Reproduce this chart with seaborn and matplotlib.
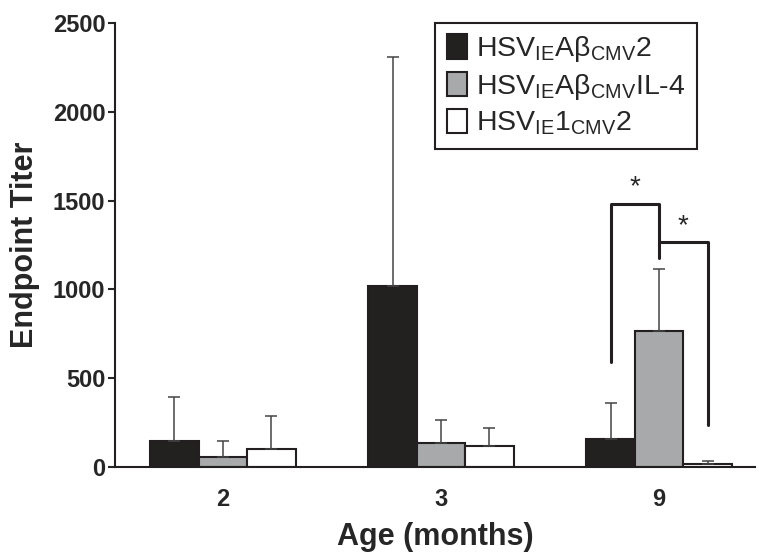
import matplotlib
matplotlib.use("Agg")
import matplotlib.pyplot as plt
import seaborn as sns
import pandas as pd

# data
ages = ["2", "3", "9"]
groups = [r"HSV$_\mathregular{IE}$A$\mathregular{\beta}$$_\mathregular{CMV}$2",
          r"HSV$_\mathregular{IE}$A$\mathregular{\beta}$$_\mathregular{CMV}$IL-4",
          r"HSV$_\mathregular{IE}$1$_\mathregular{CMV}$2"]
titer_ab2 = [148, 1020, 160]
titer_il4 = [55, 135, 768]
titer_ctrl = [100, 120, 18]
err_ab2 = [247, 1290, 198]
err_il4 = [93, 130, 345]
err_ctrl = [185, 97, 18]

rows = []
for g, vals, errs in zip(groups, [titer_ab2, titer_il4, titer_ctrl],
                         [err_ab2, err_il4, err_ctrl]):
    for a, v, e in zip(ages, vals, errs):
        rows.append({"age": a, "group": g, "titer": v, "err": e})
df = pd.DataFrame(rows)

sns.set_style("ticks")
plt.rcParams["font.family"] = ["Liberation Sans", "DejaVu Sans"]
plt.rcParams["mathtext.fontset"] = "custom"
plt.rcParams["mathtext.rm"] = "Liberation Sans"
plt.rcParams["mathtext.it"] = "Liberation Sans"

fig = plt.figure(figsize=(7.59, 5.52), dpi=100)
ax = fig.add_axes([115 / 759, 85 / 552, 640 / 759, 444 / 552])

sns.barplot(data=df, x="age", y="titer", hue="group", order=ages,
            hue_order=groups, palette=["#231f20", "#a7a9ac", "#ffffff"],
            width=0.667, edgecolor="#231f20", linewidth=1.5,
            errorbar=None, ax=ax)

# one-sided error bars
centers = {}
for g, cont in zip(groups, ax.containers):
    sub = df[df["group"] == g].set_index("age").loc[ages]
    xs = [p.get_x() + p.get_width() / 2 for p in cont.patches]
    centers[g] = xs
    ax.errorbar(xs, sub["titer"], yerr=[[0] * len(xs), sub["err"]],
                fmt="none", ecolor="#444444", elinewidth=1.1, capsize=4,
                capthick=1.1, zorder=1)

# significance brackets at 9 months
xb, xg, xw = centers[groups[0]][2], centers[groups[1]][2], centers[groups[2]][2]
ax.plot([xb, xb, xg, xg], [590, 1480, 1480, 1175], color="#231f20", lw=2.2)
ax.plot([xg, xw, xw], [1265, 1265, 236], color="#231f20", lw=2.2)
ax.text((xb + xg) / 2, 1500, "*", ha="center", va="bottom", fontsize=20)
ax.text((xg + xw) / 2, 1285, "*", ha="center", va="bottom", fontsize=20)

ax.set_ylim(0, 2500)
ax.set_xlim(-0.495, 2.44)
ax.set_yticks([0, 500, 1000, 1500, 2000, 2500])
ax.tick_params(axis="y", length=5, width=1.5, labelsize=17, pad=2)
ax.tick_params(axis="x", length=0, labelsize=17, pad=15)
for lab in ax.get_xticklabels() + ax.get_yticklabels():
    lab.set_fontweight("bold")
ax.set_ylabel("Endpoint Titer", fontsize=22, fontweight="bold", labelpad=9)
ax.set_xlabel("Age (months)", fontsize=22, fontweight="bold", labelpad=8)
sns.despine(ax=ax)
for s in ["left", "bottom"]:
    ax.spines[s].set_linewidth(1.5)
    ax.spines[s].set_color("#231f20")

leg = ax.legend(loc="upper right", bbox_to_anchor=(0.909, 1.0),
                borderaxespad=0, fontsize=20.5, frameon=True, fancybox=False,
                framealpha=1, handlelength=0.72, handleheight=0.95,
                handletextpad=0.3, labelspacing=0.25, borderpad=0.4)
leg.get_frame().set_edgecolor("#231f20")
leg.get_frame().set_linewidth(1.5)

fig.savefig("out.png", dpi=100)
